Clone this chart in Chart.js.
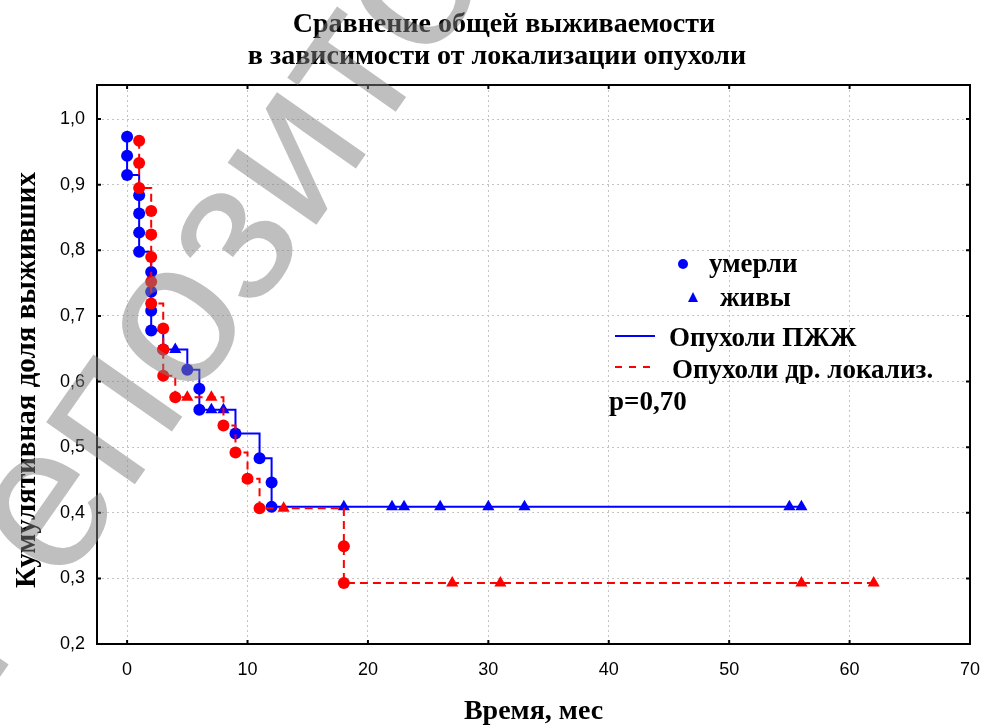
<!DOCTYPE html>
<html lang="ru">
<head>
<meta charset="utf-8">
<title>Сравнение общей выживаемости</title>
<script src="https://cdn.jsdelivr.net/npm/chart.js@4.4.1/dist/chart.umd.min.js"></script>
<style>
  html, body { margin: 0; padding: 0; background: #fff; }
  #wrap { width: 986px; height: 726px; }
</style>
</head>
<body>
<div id="wrap"><canvas id="km" width="986" height="726"></canvas></div>
<script>
const titleLines = ['Сравнение общей выживаемости', 'в зависимости от локализации опухоли'];
const xTitle = 'Время, мес';
const yTitle = 'Кумулятивная доля выживших';
const xTicks = [0, 10, 20, 30, 40, 50, 60, 70];
const yTicks = [0.2, 0.3, 0.4, 0.5, 0.6, 0.7, 0.8, 0.9, 1.0];
const legendLabels = ['умерли', 'живы', 'Опухоли ПЖЖ', 'Опухоли др. локализ.'];
const pValue = 'p=0,70';

// Опухоли ПЖЖ: умерли (точки) и живы (цензурированные)
const pzhDeathTime = [0, 0, 0, 1, 1, 1, 1, 2, 2, 2, 2, 3, 5, 6, 6, 9, 11, 12, 12];
const pzhDeathSurv = [0.973, 0.944, 0.915, 0.884, 0.856, 0.827, 0.798, 0.767, 0.737, 0.708, 0.678,
                      0.649, 0.618, 0.589, 0.557, 0.521, 0.483, 0.446, 0.409];
const pzhCensTime = [4, 7, 8, 18, 22, 23, 26, 30, 33, 55, 56];
const pzhCensSurv = [0.649, 0.557, 0.557, 0.409, 0.409, 0.409, 0.409, 0.409, 0.409, 0.409, 0.409];

// Опухоли др. локализации
const othDeathTime = [1, 1, 1, 2, 2, 2, 2, 2, 3, 3, 3, 4, 8, 9, 10, 11, 18, 18];
const othDeathSurv = [0.967, 0.933, 0.895, 0.860, 0.824, 0.790, 0.752, 0.719, 0.681, 0.649, 0.609,
                      0.576, 0.533, 0.492, 0.452, 0.407, 0.349, 0.293];
const othCensTime = [5, 7, 10, 13, 27, 31, 56, 62];
const othCensSurv = [0.576, 0.576, 0.452, 0.407, 0.293, 0.293, 0.293, 0.293];

const BLUE = '#0000ff';
const RED = '#ff0000';
const SERIF = '"Liberation Serif", "Times New Roman", serif';
const SANS = '"Liberation Sans", Arial, sans-serif';

const toPts = (t, s) => t.map((x, i) => ({ x, y: s[i] }));
const stepPts = (t1, s1, t2, s2) =>
  toPts(t1.concat(t2), s1.concat(s2)).sort((a, b) => a.x - b.x || b.y - a.y);

const marks = (data, color, style, r, order) => ({
  data, order, showLine: false,
  pointStyle: style, pointRadius: r, pointHoverRadius: r,
  backgroundColor: color, borderColor: color, borderWidth: 0
});
const curve = (data, color, dash, order) => ({
  data, order, showLine: true, stepped: 'before',
  borderColor: color, borderWidth: 2, borderDash: dash,
  pointRadius: 0, pointHoverRadius: 0, fill: false
});

// frame, inner ticks, titles, legend, watermark
const decor = {
  id: 'decor',
  afterDraw(chart) {
    const { ctx, chartArea: a, scales: { x, y } } = chart;
    ctx.save();
    ctx.strokeStyle = '#000';
    ctx.lineWidth = 2;
    ctx.strokeRect(a.left, a.top, a.right - a.left, a.bottom - a.top);
    ctx.beginPath();
    xTicks.forEach(v => {
      const px = x.getPixelForValue(v);
      ctx.moveTo(px, a.bottom); ctx.lineTo(px, a.bottom - 4);
      ctx.moveTo(px, a.top); ctx.lineTo(px, a.top + 4);
    });
    yTicks.forEach(v => {
      const py = y.getPixelForValue(v);
      ctx.moveTo(a.left, py); ctx.lineTo(a.left + 4, py);
      ctx.moveTo(a.right, py); ctx.lineTo(a.right - 4, py);
    });
    ctx.stroke();

    // title
    ctx.fillStyle = '#000';
    ctx.font = 'bold 28px ' + SERIF;
    ctx.textAlign = 'center';
    ctx.textBaseline = 'alphabetic';
    ctx.fillText(titleLines[0], 504, 32);
    ctx.fillText(titleLines[1], 497, 64);

    // y axis title
    ctx.save();
    ctx.translate(28, 380);
    ctx.rotate(-Math.PI / 2);
    ctx.font = 'bold 29px ' + SERIF;
    ctx.textBaseline = 'middle';
    ctx.fillText(yTitle, 0, 0);
    ctx.restore();

    // legend
    ctx.textAlign = 'left';
    ctx.fillStyle = BLUE;
    ctx.beginPath(); ctx.arc(683, 264, 5, 0, Math.PI * 2); ctx.fill();
    ctx.beginPath(); ctx.moveTo(693, 292); ctx.lineTo(698, 302); ctx.lineTo(688, 302); ctx.closePath(); ctx.fill();
    ctx.strokeStyle = BLUE; ctx.lineWidth = 2;
    ctx.beginPath(); ctx.moveTo(615, 336); ctx.lineTo(655, 336); ctx.stroke();
    ctx.strokeStyle = RED; ctx.setLineDash([7, 7]);
    ctx.beginPath(); ctx.moveTo(615, 367); ctx.lineTo(657, 367); ctx.stroke();
    ctx.setLineDash([]);
    ctx.fillStyle = '#000';
    ctx.font = 'bold 27px ' + SERIF;
    ctx.fillText(legendLabels[0], 709, 272);
    ctx.fillText(legendLabels[1], 720, 306);
    ctx.fillText(legendLabels[2], 669, 346);
    ctx.fillText(legendLabels[3], 672, 378);
    ctx.fillText(pValue, 609, 410);

    // watermark
    ctx.translate(-12, 694);
    ctx.rotate(-55 * Math.PI / 180);
    ctx.font = '205px ' + SANS;
    ctx.fillStyle = 'rgba(128,128,128,0.5)';
    ctx.fillText('Репозиторий', 0, 0);
    ctx.restore();
  }
};

new Chart(document.getElementById('km'), {
  type: 'scatter',
  data: {
    datasets: [
      marks(toPts(othDeathTime, othDeathSurv), RED, 'circle', 6, 1),
      marks(toPts(othCensTime, othCensSurv), RED, 'triangle', 7, 1),
      curve(stepPts(othDeathTime, othDeathSurv, othCensTime, othCensSurv), RED, [8, 5], 2),
      marks(toPts(pzhDeathTime, pzhDeathSurv), BLUE, 'circle', 6, 3),
      marks(toPts(pzhCensTime, pzhCensSurv), BLUE, 'triangle', 7, 3),
      curve(stepPts(pzhDeathTime, pzhDeathSurv, pzhCensTime, pzhCensSurv), BLUE, [], 4)
    ]
  },
  options: {
    responsive: false,
    animation: false,
    devicePixelRatio: 1,
    layout: { padding: { top: 85, right: 16, bottom: 0, left: 0 } },
    plugins: {
      legend: { display: false },
      tooltip: { enabled: false },
      title: { display: false }
    },
    scales: {
      x: {
        type: 'linear',
        min: -2.5,
        max: 70,
        afterBuildTicks: s => { s.ticks = xTicks.map(v => ({ value: v })); },
        afterFit: s => { s.height = 82; s.paddingLeft = 0; s.paddingRight = 0; },
        grid: { color: '#c4c4c4', lineWidth: 1, drawTicks: false },
        border: { display: false, dash: [2, 3] },
        ticks: { color: '#000', padding: 15, font: { family: SANS, size: 18 }, maxRotation: 0 },
        title: {
          display: true, text: xTitle, color: '#000',
          font: { family: SERIF, size: 28, weight: 'bold', lineHeight: 1 },
          padding: { top: 0, bottom: 0 }
        }
      },
      y: {
        type: 'linear',
        min: 0.2,
        max: 1.052,
        afterBuildTicks: s => { s.ticks = yTicks.map(v => ({ value: v })); },
        afterFit: s => { s.width = 97; },
        grid: { color: '#c4c4c4', lineWidth: 1, drawTicks: false },
        border: { display: false, dash: [2, 3] },
        ticks: {
          color: '#000', padding: 12, font: { family: SANS, size: 18 },
          callback: v => v.toFixed(1).replace('.', ',')
        }
      }
    }
  },
  plugins: [decor]
});
</script>
</body>
</html>
